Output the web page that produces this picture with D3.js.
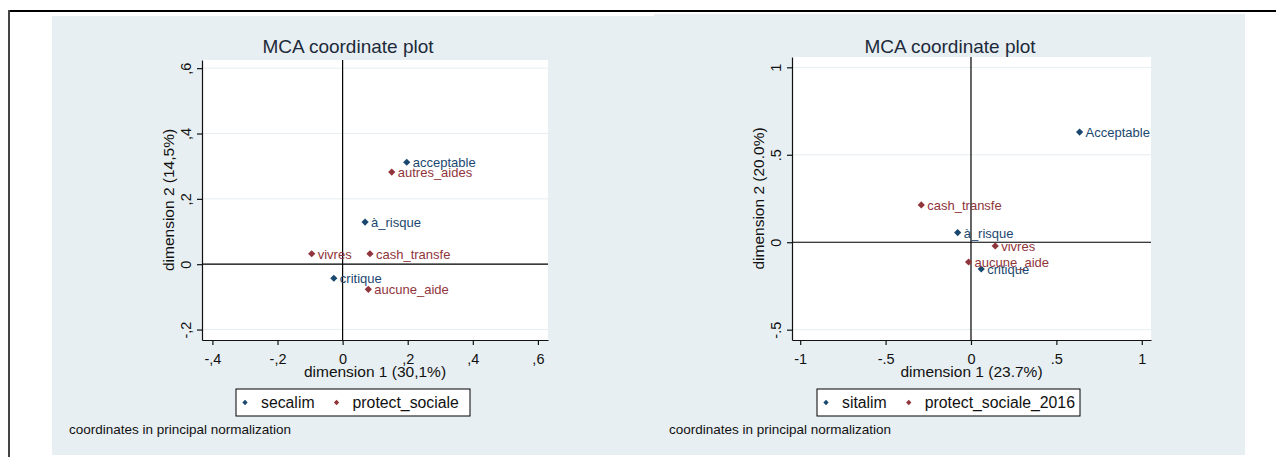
<!DOCTYPE html>
<html>
<head>
<meta charset="utf-8">
<script src="https://cdn.jsdelivr.net/npm/d3@7"></script>
<style>
  html, body { margin: 0; padding: 0; background: #ffffff; }
  svg { display: block; font-family: "Liberation Sans", Arial, sans-serif; }
</style>
</head>
<body>
<svg id="chart" width="1276" height="457"></svg>
<script>
// ---- Left plot: secalim x protect_sociale ----
const secalimLabels = ["acceptable", "à_risque", "critique"];
const secalimDim1 = [0.197, 0.069, -0.027];
const secalimDim2 = [0.312, 0.129, -0.043];

const protectLabels = ["autres_aides", "vivres", "cash_transfe", "aucune_aide"];
const protectDim1 = [0.151, -0.095, 0.084, 0.079];
const protectDim2 = [0.282, 0.032, 0.032, -0.077];

const xTicks1 = [-0.4, -0.2, 0, 0.2, 0.4, 0.6];
const xTickLabels1 = ["-,4", "-,2", "0", ",2", ",4", ",6"];
const yTicks1 = [-0.2, 0, 0.2, 0.4, 0.6];
const yTickLabels1 = ["-,2", "0", ",2", ",4", ",6"];

// ---- Right plot: sitalim x protect_sociale_2016 ----
const sitalimLabels = ["Acceptable", "à_risque", "critique"];
const sitalimDim1 = [0.636, -0.078, 0.060];
const sitalimDim2 = [0.630, 0.055, -0.153];

const protect16Labels = ["cash_transfe", "vivres", "aucune_aide"];
const protect16Dim1 = [-0.291, 0.142, -0.014];
const protect16Dim2 = [0.213, -0.021, -0.113];

const xTicks2 = [-1, -0.5, 0, 0.5, 1];
const xTickLabels2 = ["-1", "-.5", "0", ".5", "1"];
const yTicks2 = [-0.5, 0, 0.5, 1];
const yTickLabels2 = ["-.5", "0", ".5", "1"];

const COL_A = "#1a476f";
const COL_B = "#90353b";
const BG = "#e8eff2";

const svg = d3.select("#chart");

// outer frame
svg.append("line").attr("x1", 8).attr("x2", 1276).attr("y1", 11).attr("y2", 11)
  .attr("stroke", "#000").attr("stroke-width", 2.2);
svg.append("line").attr("x1", 9).attr("x2", 9).attr("y1", 10).attr("y2", 457)
  .attr("stroke", "#444").attr("stroke-width", 2);

const zip = (labels, xs, ys) => labels.map((l, i) => ({ label: l, x: xs[i], y: ys[i] }));

const panels = [
  {
    id: "p1",
    frame: { x0: 52, x1: 654, y0: 16, y1: 455 },
    plot: { left: 202, right: 548, top: 60, bottom: 340 },
    xDomain: [-0.432, 0.631], yDomain: [-0.232, 0.625],
    xTicks: xTicks1, xTickLabels: xTickLabels1,
    yTicks: yTicks1, yTickLabels: yTickLabels1,
    xTitle: "dimension 1 (30,1%)", yTitle: "dimension 2 (14,5%)",
    yTitleX: 174, yTickX: 191,
    titleX: 348,
    series: [
      { name: "secalim", color: COL_A, pts: zip(secalimLabels, secalimDim1, secalimDim2) },
      { name: "protect_sociale", color: COL_B, pts: zip(protectLabels, protectDim1, protectDim2) }
    ],
    legend: { x0: 236, x1: 470, y0: 389, y1: 416 },
    footX: 69
  },
  {
    id: "p2",
    frame: { x0: 654, x1: 1245, y0: 14, y1: 455 },
    plot: { left: 792, right: 1151, top: 57, bottom: 340 },
    xDomain: [-1.048, 1.054], yDomain: [-0.559, 1.059],
    xTicks: xTicks2, xTickLabels: xTickLabels2,
    yTicks: yTicks2, yTickLabels: yTickLabels2,
    xTitle: "dimension 1 (23.7%)", yTitle: "dimension 2 (20.0%)",
    yTitleX: 764, yTickX: 781,
    titleX: 950,
    series: [
      { name: "sitalim", color: COL_A, pts: zip(sitalimLabels, sitalimDim1, sitalimDim2) },
      { name: "protect_sociale_2016", color: COL_B, pts: zip(protect16Labels, protect16Dim1, protect16Dim2) }
    ],
    legend: { x0: 817, x1: 1080, y0: 389, y1: 416 },
    footX: 669
  }
];

const diamond = (size) => d3.symbol(d3.symbolSquare, size);

panels.forEach(p => {
  const g = svg.append("g");
  const f = p.frame, pl = p.plot;

  g.append("rect").attr("x", f.x0).attr("y", f.y0)
    .attr("width", f.x1 - f.x0).attr("height", f.y1 - f.y0).attr("fill", BG);

  // title
  g.append("text").attr("x", p.titleX).attr("y", 53)
    .attr("text-anchor", "middle").attr("font-size", 19).attr("fill", "#1c2a3a")
    .text("MCA coordinate plot");

  const x = d3.scaleLinear().domain(p.xDomain).range([pl.left, pl.right]);
  const y = d3.scaleLinear().domain(p.yDomain).range([pl.bottom, pl.top]);

  // plot region
  g.append("rect").attr("x", pl.left).attr("y", pl.top)
    .attr("width", pl.right - pl.left).attr("height", pl.bottom - pl.top).attr("fill", "#fff");

  // horizontal grid
  g.append("g").selectAll("line").data(p.yTicks).join("line")
    .attr("x1", pl.left).attr("x2", pl.right)
    .attr("y1", d => y(d)).attr("y2", d => y(d))
    .attr("stroke", "#e6eef1").attr("stroke-width", 1);

  // zero reference lines
  g.append("line").attr("x1", x(0)).attr("x2", x(0)).attr("y1", pl.top).attr("y2", pl.bottom)
    .attr("stroke", "#000").attr("stroke-width", 1.2);
  g.append("line").attr("x1", pl.left).attr("x2", pl.right).attr("y1", y(0)).attr("y2", y(0))
    .attr("stroke", "#000").attr("stroke-width", 1.2);

  // axes
  const xAxis = d3.axisBottom(x).tickValues(p.xTicks)
    .tickFormat((d, i) => p.xTickLabels[i]).tickSize(5).tickSizeOuter(0);
  const gx = g.append("g").attr("transform", `translate(0,${pl.bottom})`).call(xAxis);
  gx.select(".domain").attr("stroke", "#111").attr("stroke-width", 1.2);
  gx.selectAll(".tick line").attr("stroke", "#111").attr("stroke-width", 1.2);
  gx.selectAll(".tick text").attr("font-size", 14.5).attr("fill", "#111")
    .attr("font-family", "Liberation Sans, Arial, sans-serif").attr("dy", null).attr("y", 24);

  const yAxis = d3.axisLeft(y).tickValues(p.yTicks)
    .tickFormat((d, i) => p.yTickLabels[i]).tickSize(5).tickSizeOuter(0);
  const gy = g.append("g").attr("transform", `translate(${pl.left},0)`).call(yAxis);
  gy.select(".domain").attr("stroke", "#111").attr("stroke-width", 1.2);
  gy.selectAll(".tick line").attr("stroke", "#111").attr("stroke-width", 1.2);
  gy.selectAll(".tick text")
    .attr("font-size", 14.5).attr("fill", "#111")
    .attr("font-family", "Liberation Sans, Arial, sans-serif")
    .attr("x", null).attr("dy", null).attr("text-anchor", "middle")
    .attr("transform", `translate(${p.yTickX - pl.left},0) rotate(-90)`);

  // axis titles
  g.append("text").attr("x", (pl.left + pl.right) / 2).attr("y", 377)
    .attr("text-anchor", "middle").attr("font-size", 15.5).attr("fill", "#111")
    .text(p.xTitle);
  g.append("text")
    .attr("transform", `translate(${p.yTitleX},${(pl.top + pl.bottom) / 2}) rotate(-90)`)
    .attr("text-anchor", "middle").attr("font-size", 15.5).attr("fill", "#111")
    .text(p.yTitle);

  // points and labels, clipped to the plot region
  const clipId = "clip-" + p.id;
  g.append("clipPath").attr("id", clipId).append("rect")
    .attr("x", pl.left).attr("y", pl.top)
    .attr("width", pl.right - pl.left).attr("height", pl.bottom - pl.top);
  const marks = g.append("g").attr("clip-path", `url(#${clipId})`);

  p.series.forEach(s => {
    const sg = marks.append("g");
    sg.selectAll("path").data(s.pts).join("path")
      .attr("d", diamond(26))
      .attr("transform", d => `translate(${x(d.x)},${y(d.y)}) rotate(45)`)
      .attr("fill", s.color);
    sg.selectAll("text").data(s.pts).join("text")
      .attr("x", d => x(d.x) + 6).attr("y", d => y(d.y) + 5)
      .attr("font-size", 13).attr("fill", s.color)
      .text(d => d.label);
  });

  // legend
  const L = p.legend;
  const lg = g.append("g");
  lg.append("rect").attr("x", L.x0).attr("y", L.y0)
    .attr("width", L.x1 - L.x0).attr("height", L.y1 - L.y0)
    .attr("fill", "#fff").attr("stroke", "#000").attr("stroke-width", 1);
  let cx = L.x0 + 9;
  const ly = (L.y0 + L.y1) / 2;
  p.series.forEach(s => {
    lg.append("path").attr("d", diamond(14))
      .attr("transform", `translate(${cx},${ly}) rotate(45)`).attr("fill", s.color);
    const t = lg.append("text").attr("x", cx + 16).attr("y", ly + 5.5)
      .attr("font-size", 15.8).attr("fill", "#111").text(s.name);
    cx = cx + 16 + t.node().getComputedTextLength() + 22;
  });

  // footnote
  g.append("text").attr("x", p.footX).attr("y", 434)
    .attr("font-size", 13.5).attr("fill", "#111")
    .text("coordinates in principal normalization");
});
</script>
</body>
</html>
